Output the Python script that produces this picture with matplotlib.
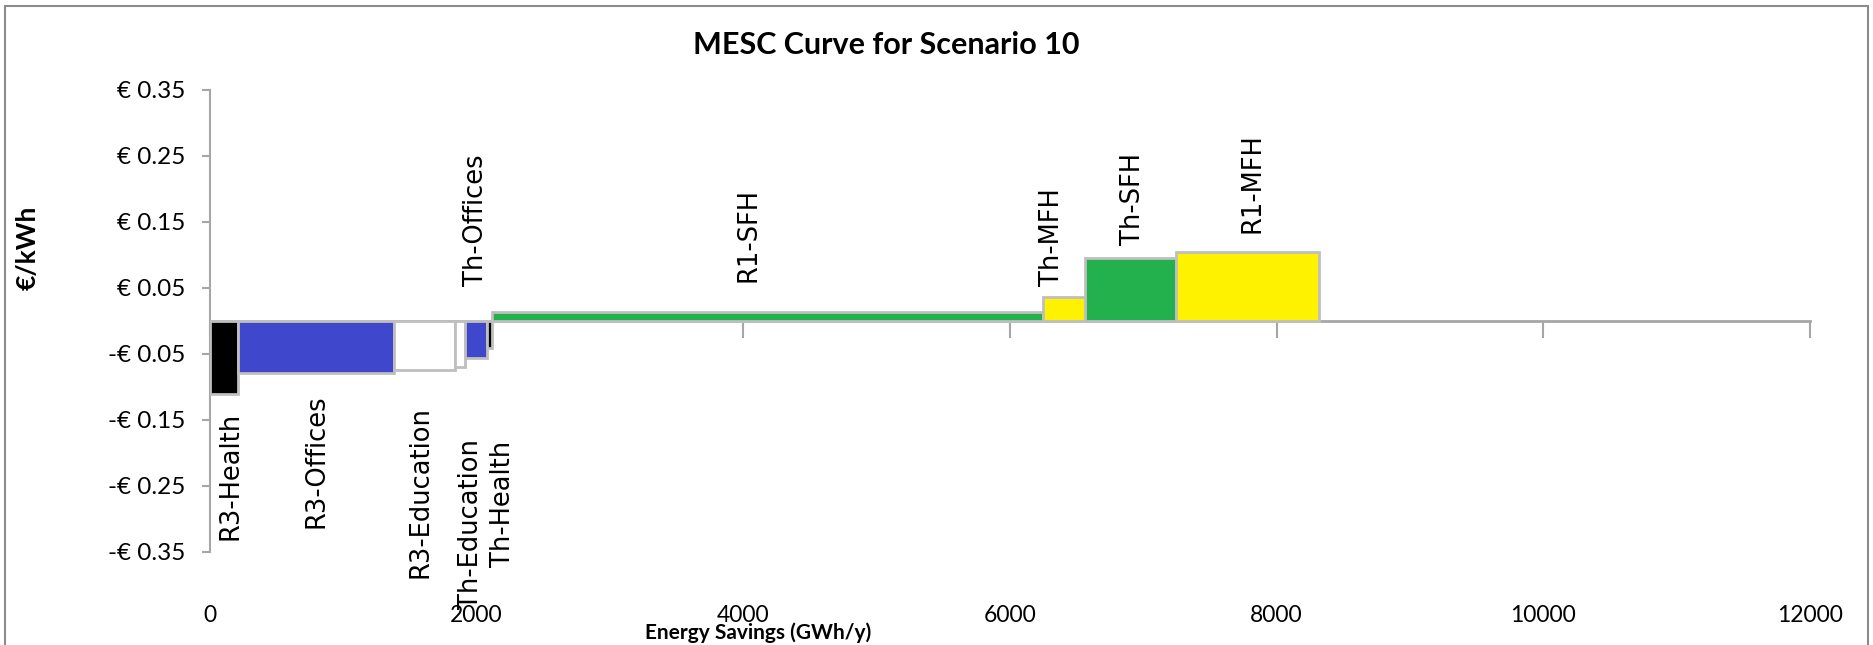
import numpy as np
import matplotlib.pyplot as plt
from matplotlib.patches import Rectangle

# measures, sorted by cost (MESC curve)
measures = ['R3-Health', 'R3-Offices', 'R3-Education', 'Th-Education', 'Th-Offices',
            'Th-Health', 'R1-SFH', 'Th-MFH', 'Th-SFH', 'R1-MFH']
savings = [210, 1170, 460, 75, 165, 35, 4135, 310, 685, 1075]          # GWh/y
costs = [-0.110, -0.079, -0.074, -0.070, -0.056, -0.041, 0.014, 0.036, 0.095, 0.104]  # EUR/kWh
colors = ['#000000', '#3F48CC', '#FFFFFF', '#FFFFFF', '#3F48CC',
          '#000000', '#22B14C', '#FFF200', '#22B14C', '#FFF200']

x_ticks = [0, 2000, 4000, 6000, 8000, 10000, 12000]
y_ticks = [-0.35, -0.25, -0.15, -0.05, 0.05, 0.15, 0.25, 0.35]

# label nudges in pixels (dx, dy); dy > 0 puts the label above the bar
label_dx = [6, 0, -4, 11, 0, 13, -19, -12, 3, 5]
label_dy = [-18, -21, -36, -72, 35, -93, 30, 11, 13, 19]

W, H = 1873, 645
fig = plt.figure(figsize=(W / 100, H / 100), dpi=100)
ax = fig.add_axes([210 / W, 1 - 552 / H, 1600 / W, 462 / H])

starts = np.concatenate([[0], np.cumsum(savings)[:-1]])
ax.bar(starts, costs, width=savings, align='edge', color=colors,
       edgecolor='#BFBFBF', linewidth=2, zorder=3)

for i, name in enumerate(measures):
    cx = starts[i] + savings[i] / 2
    h = costs[i]
    if label_dy[i] > 0:
        y0, va = max(h, 0), 'bottom'
    else:
        y0, va = min(h, 0), 'top'
    ax.annotate(name, (cx, y0), xytext=(label_dx[i], label_dy[i]),
                textcoords='offset pixels', rotation=90, ha='center', va=va,
                fontsize=18.5, family='DejaVu Sans', color='black')

ax.set_xlim(0, 12000)
ax.set_ylim(-0.35, 0.35)

gray = '#A6A6A6'
for s in ['top', 'right']:
    ax.spines[s].set_visible(False)
ax.spines['left'].set_color(gray)
ax.spines['left'].set_linewidth(1.5)
ax.spines['bottom'].set_position(('data', 0))
ax.spines['bottom'].set_color(gray)
ax.spines['bottom'].set_linewidth(2)
ax.spines['bottom'].set_zorder(2)

ax.set_yticks(y_ticks)
ax.set_yticklabels([('-€ %.2f' % -v) if v < 0 else ('€ %.2f' % v) for v in y_ticks],
                   family='Lato', fontsize=17.5)
ax.tick_params(axis='y', length=6, width=1.5, color=gray, pad=12)

ax.set_xticks(x_ticks)
ax.tick_params(axis='x', length=12, width=1.5, color=gray, labelbottom=False)

sec = ax.secondary_xaxis(-0.115)
sec.set_xticks(x_ticks)
sec.set_xticklabels([str(v) for v in x_ticks], family='Lato', fontsize=16.5)
sec.tick_params(length=0, pad=0)
sec.spines['bottom'].set_visible(False)

fig.text(886 / W, 1 - 45 / H, 'MESC Curve for Scenario 10', ha='center', va='center',
         family='Lato', fontweight='bold', fontsize=22)
fig.text(758 / W, 2 / H, 'Energy Savings (GWh/y)', ha='center', va='bottom',
         family='Lato', fontweight='bold', fontsize=15)
fig.text(28 / W, 1 - 248 / H, '€/kWh', ha='center', va='center', rotation=90,
         family='Lato', fontweight='bold', fontsize=19)

fig.patches.append(Rectangle((5 / W, -0.05), 1 - 10 / W, 1 - 5 / H + 0.05 - 0.002,
                             transform=fig.transFigure, fill=False,
                             edgecolor='#8C8C8C', linewidth=1.5))

fig.savefig('out.png', dpi=100)
